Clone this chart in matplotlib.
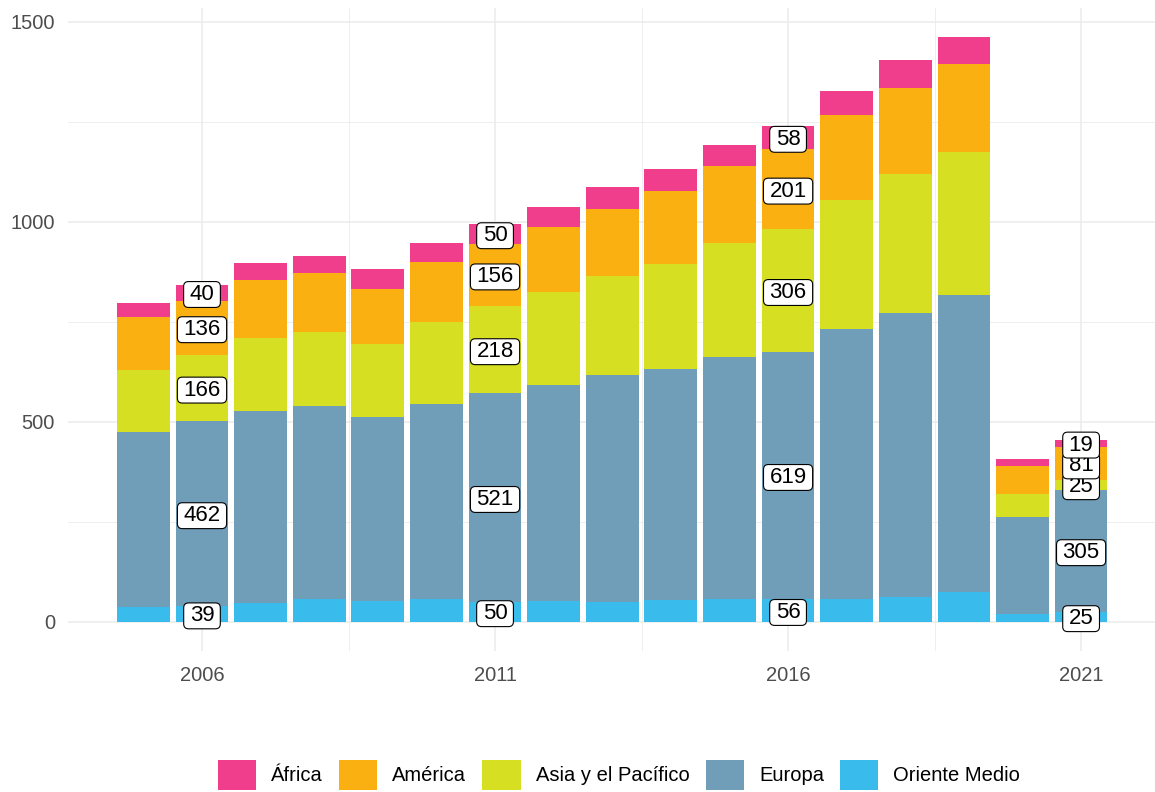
import matplotlib
matplotlib.use("Agg")
import matplotlib.pyplot as plt
from matplotlib.patches import Patch, BoxStyle
import numpy as np

plt.rcParams['font.family'] = ['Liberation Sans', 'DejaVu Sans']

years = list(range(2005, 2022))
oriente = [36, 39, 47, 56, 52, 56, 50, 51, 49, 53, 57, 56, 57, 61, 74, 19, 25]
europa = [439, 462, 480, 484, 460, 487, 521, 541, 567, 578, 604, 619, 674, 712, 742, 242, 305]
asia = [153, 166, 182, 184, 182, 206, 218, 233, 248, 263, 285, 306, 324, 347, 359, 58, 25]
america = [135, 136, 146, 147, 139, 151, 156, 162, 167, 182, 193, 201, 211, 215, 220, 69, 81]
africa = [34, 40, 42, 43, 48, 48, 50, 51, 55, 55, 52, 58, 62, 70, 67, 18, 19]
labeled_years = [2006, 2011, 2016, 2021]

series_names = ["Oriente Medio", "Europa", "Asia y el Pacífico", "América", "África"]
series_values = [oriente, europa, asia, america, africa]
colors = {"África": "#F03E8D", "América": "#FBB012", "Asia y el Pacífico": "#D6DF21",
          "Europa": "#709DB7", "Oriente Medio": "#39BBEC"}
legend_order = ["África", "América", "Asia y el Pacífico", "Europa", "Oriente Medio"]


class LabelBox:
    """Rounded box with separate horizontal / vertical padding (like geom_label)."""
    def __init__(self, padx=0.27, pady=0.11, r=0.22):
        self.padx, self.pady, self.r = padx, pady, r
        self._round = BoxStyle.Round(pad=0, rounding_size=r)

    def __call__(self, x0, y0, width, height, mutation_size):
        px = self.padx * mutation_size
        py = self.pady * mutation_size
        return self._round(x0 - px, y0 - py, width + 2 * px, height + 2 * py, mutation_size)


W, H = 1155, 792
fig = plt.figure(figsize=(W / 100, H / 100), dpi=100)
ax = fig.add_axes([67.5 / W, (H - 650.9) / H, (1157 - 67.5) / W, (650.9 - 7.7) / H])

x = np.array(years)
bottom = np.zeros(len(years))
centers = {}
for name, vals in zip(series_names, series_values):
    v = np.array(vals, dtype=float)
    ax.bar(x, v, width=0.9, bottom=bottom, color=colors[name], linewidth=0, zorder=2)
    centers[name] = bottom + v / 2
    bottom = bottom + v

# label positions (stack centre, pushed apart when crowded)
gap = 52
for yr in labeled_years:
    i = years.index(yr)
    ys = [centers[n][i] for n in series_names]
    vals = [series_values[k][i] for k in range(len(series_names))]
    ys = list(ys)
    for _ in range(50):
        moved = False
        for k in range(len(ys) - 1):
            d = ys[k + 1] - ys[k]
            if d < gap:
                shift = (gap - d) / 2
                ys[k] -= shift
                ys[k + 1] += shift
                moved = True
        if not moved:
            break
    for yv, val in zip(ys, vals):
        ax.text(yr, yv - 5, str(val), ha="center", va="center", fontsize=16, color="black",
                zorder=5,
                bbox=dict(boxstyle=LabelBox(), fc="white", ec="black", lw=0.8))

ax.set_xlim(2003.705, 2022.295)
ax.set_ylim(-73.1, 1535.1)
ax.set_xticks([2006, 2011, 2016, 2021])
ax.set_xticks([2008.5, 2013.5, 2018.5], minor=True)
ax.set_yticks([0, 500, 1000, 1500])
ax.set_yticks([250, 750, 1250], minor=True)
ax.grid(which="major", color="#EBEBEB", linewidth=1.1, zorder=0)
ax.grid(which="minor", color="#EBEBEB", linewidth=0.6, zorder=0)
ax.set_axisbelow(True)
for s in ax.spines.values():
    s.set_visible(False)
ax.tick_params(which="both", length=0)
ax.tick_params(axis="y", pad=9, labelsize=14.5, labelcolor="#4D4D4D")
ax.tick_params(axis="x", pad=11, labelsize=14.5, labelcolor="#4D4D4D")

handles = [Patch(facecolor=colors[n], edgecolor="none", label=n) for n in legend_order]
fig.legend(handles=handles, loc="center", bbox_to_anchor=(619 / W, 1 - 775 / H), ncol=5,
           frameon=False, fontsize=14.5, handlelength=1.9, handleheight=1.9,
           handletextpad=0.75, columnspacing=0.8, borderaxespad=0)

fig.savefig("out.png", dpi=100)
